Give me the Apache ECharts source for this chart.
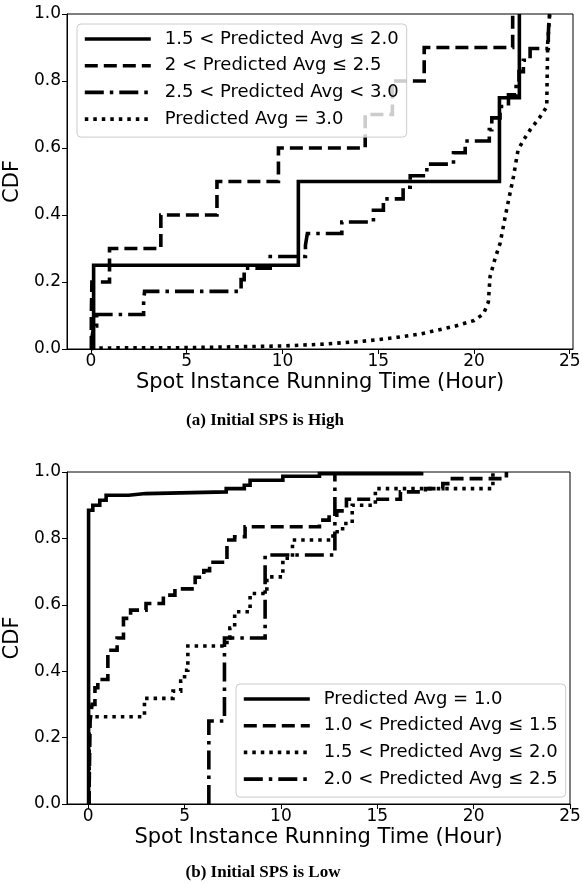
<!DOCTYPE html>
<html>
<head>
<meta charset="utf-8">
<script src="https://cdn.jsdelivr.net/npm/echarts@6/dist/echarts.min.js"></script>
<style>
  html, body { margin: 0; padding: 0; background: #fff; }
  #main { width: 582px; height: 884px; }
</style>
</head>
<body>
<div id="main"></div>
<script>
/* two CDF panels of spot instance running time */

// shared ticks
const xTicks = [0, 5, 10, 15, 20, 25];

// (a) initial SPS high
const highNames = ['1.5 < Predicted Avg ≤ 2.0', '2 < Predicted Avg ≤ 2.5', '2.5 < Predicted Avg < 3.0', 'Predicted Avg = 3.0'];
const highX1 = [0.14, 10.83, 21.33, 22.37];
const highY1 = [0.25, 0.5, 0.75, 1.0];
const highX2 = [0.02, 0.05, 0.97, 3.65, 6.58, 9.79, 14.32, 15.74, 17.4, 22.02];
const highY2 = [0.1, 0.2, 0.3, 0.4, 0.5, 0.6, 0.7, 0.8, 0.9, 1.0];
const highX3 = [0.05, 0.15, 0.3, 2.75, 2.8, 7.84, 8.0, 9.36, 11.2, 11.3, 13.1, 14.75, 15.27, 16.3, 16.67, 17.54, 18.93, 19.54,
                20.8, 20.93, 21.36, 21.8, 22.2, 22.35, 22.58, 22.93, 23.88, 23.9, 23.95];
const highY3 = [0.034, 0.069, 0.103, 0.138, 0.172, 0.207, 0.241, 0.276, 0.310, 0.345, 0.379, 0.414, 0.448, 0.483, 0.517, 0.552,
                0.586, 0.621, 0.655, 0.690, 0.724, 0.759, 0.793, 0.828, 0.862, 0.897, 0.931, 0.966, 1.0];
const highX4 = [0, 0.2, 5, 10, 12, 14, 15, 16, 17.2, 18, 19, 20, 20.5, 20.75, 20.84, 21.1, 21.36, 21.7, 22.06, 22.3, 22.6,
                22.93, 23.45, 23.8, 23.82, 23.85, 23.95];
const highY4 = [0, 0.003, 0.004, 0.009, 0.014, 0.022, 0.028, 0.035, 0.045, 0.055, 0.068, 0.085, 0.105, 0.14, 0.216, 0.27,
                0.315, 0.415, 0.514, 0.594, 0.625, 0.654, 0.693, 0.723, 0.81, 0.913, 1.0];

// (b) initial SPS low
const lowNames = ['Predicted Avg = 1.0', '1.0 < Predicted Avg ≤ 1.5', '1.5 < Predicted Avg ≤ 2.0', '2.0 < Predicted Avg ≤ 2.5'];
const lowX1 = [0.02, 0.24, 0.6, 0.93, 2.1, 2.98, 7.16, 8.1, 8.4, 10.1, 12.0, 17.3];
const lowY1 = [0.885, 0.9, 0.915, 0.93, 0.935, 0.94, 0.95, 0.96, 0.975, 0.987, 0.995, 1.0];
const lowX2 = [0.05, 0.1, 0.2, 0.35, 0.5, 1.02, 1.5, 1.83, 2.2, 3.0, 3.9, 4.5, 5.55, 6.0, 6.3, 7.2, 7.6, 8.14, 12.0, 12.5,
               12.9, 13.4, 16.2, 17.5, 18.4, 18.8, 21.7];
const lowY2 = [0.05, 0.25, 0.30, 0.35, 0.375, 0.463, 0.50, 0.559, 0.584, 0.604, 0.629, 0.648, 0.683, 0.703, 0.728, 0.795,
               0.805, 0.835, 0.855, 0.87, 0.883, 0.918, 0.94, 0.95, 0.965, 0.98, 1.0];
const lowX3 = [0.05, 2.92, 4.4, 4.8, 5.0, 5.17, 7.2, 7.35, 7.6, 8.4, 9.27, 10.1, 10.6, 12.7, 13.2, 13.7, 14.9, 21.0];
const lowY3 = [0.263, 0.318, 0.34, 0.37, 0.403, 0.476, 0.5, 0.53, 0.579, 0.634, 0.684, 0.74, 0.795, 0.82, 0.845, 0.9, 0.95, 1.0];
const lowX4 = [6.26, 7.07, 9.18, 12.8];
const lowY4 = [0.25, 0.5, 0.75, 1.0];

const FONT = 'DejaVu Sans';
const LW = 3.6;
const SOLID = 'solid';
const DASHED = [13, 6];
const DOTTED = [3.5, 5];
const DASHDOT = [19, 6, 3.5, 6];

// series keys are unique per panel (two panels share a label)
const highKeys = highNames.map((n, i) => 'a' + i);
const lowKeys = lowNames.map((n, i) => 'b' + i);
const labelOf = {};
highKeys.forEach((k, i) => labelOf[k] = highNames[i]);
lowKeys.forEach((k, i) => labelOf[k] = lowNames[i]);

// ecdf points, starting at zero
function steps(xs, ys) {
    let pts = [[xs[0], 0]];
    for (let i = 0; i < xs.length; i++) pts.push([xs[i], ys[i]]);
    return pts;
}

function cdfSeries(key, xs, ys, dash, idx, isStep) {
    return {
        name: key,
        type: 'line',
        xAxisIndex: idx,
        yAxisIndex: idx,
        step: isStep ? 'end' : false,
        data: isStep ? steps(xs, ys) : xs.map((x, i) => [x, ys[i]]),
        symbol: 'none',
        showSymbol: false,
        animation: false,
        itemStyle: { color: '#000' },
        lineStyle: { color: '#000', width: LW, type: dash, cap: 'butt', join: 'miter' }
    };
}

function xAxisOf(idx, min, max) {
    return {
        type: 'value', gridIndex: idx, min: min, max: max,
        name: 'Spot Instance Running Time (Hour)',
        nameLocation: 'middle', nameGap: 23,
        nameTextStyle: { fontFamily: FONT, fontSize: 21, color: '#000' },
        axisLine: { show: true, onZero: false, lineStyle: { color: '#000', width: 1 } },
        axisTick: { show: true, customValues: xTicks, length: 5, lineStyle: { color: '#000' } },
        axisLabel: { customValues: xTicks, fontFamily: FONT, fontSize: 17, color: '#000', margin: 4 },
        splitLine: { show: false }
    };
}

function yAxisOf(idx) {
    return {
        type: 'value', gridIndex: idx, min: 0, max: 1, interval: 0.2,
        name: 'CDF', nameLocation: 'middle', nameGap: 33, nameRotate: 90,
        nameTextStyle: { fontFamily: FONT, fontSize: 21, color: '#000' },
        axisLine: { show: true, onZero: false, lineStyle: { color: '#000', width: 1 } },
        axisTick: { show: true, length: 5, lineStyle: { color: '#000' } },
        axisLabel: { fontFamily: FONT, fontSize: 17, color: '#000', margin: 6, formatter: v => v.toFixed(1) },
        splitLine: { show: false }
    };
}

function legendOf(keys, left, top) {
    return {
        data: keys, orient: 'vertical', left: left, top: top,
        formatter: k => labelOf[k],
        itemWidth: 66, itemHeight: 14, itemGap: 6.7,
        padding: [5, 8, 8, 6],
        backgroundColor: 'rgba(255,255,255,0.8)',
        borderColor: '#cccccc', borderWidth: 1, borderRadius: 4,
        itemStyle: { opacity: 0 },
        lineStyle: { width: LW },
        textStyle: { fontFamily: FONT, fontSize: 18, color: '#000', lineHeight: 20, padding: [0, 0, 0, 9] }
    };
}

function gridOf(top, height, right) {
    return {
        left: 67, right: right, top: top, height: height,
        outerBoundsMode: 'none', containLabel: false,
        show: true, borderColor: '#000', borderWidth: 1, backgroundColor: 'transparent'
    };
}

const chart = echarts.init(document.getElementById('main'), null, { renderer: 'canvas' });
chart.setOption({
    backgroundColor: '#fff',
    animation: false,
    grid: [gridOf(14, 335, 9), gridOf(472, 332, 12)],
    xAxis: [xAxisOf(0, -1.25, 25.17), xAxisOf(1, -1.1, 25)],
    yAxis: [yAxisOf(0), yAxisOf(1)],
    legend: [legendOf(highKeys, 77, 24), legendOf(lowKeys, 236, 684)],
    series: [
        cdfSeries(highKeys[0], highX1, highY1, SOLID, 0, true),
        cdfSeries(highKeys[1], highX2, highY2, DASHED, 0, true),
        cdfSeries(highKeys[2], highX3, highY3, DASHDOT, 0, true),
        cdfSeries(highKeys[3], highX4, highY4, DOTTED, 0, false),
        cdfSeries(lowKeys[0], lowX1, lowY1, SOLID, 1, true),
        cdfSeries(lowKeys[1], lowX2, lowY2, DASHED, 1, true),
        cdfSeries(lowKeys[2], lowX3, lowY3, DOTTED, 1, true),
        cdfSeries(lowKeys[3], lowX4, lowY4, DASHDOT, 1, true)
    ],
    graphic: [
        { type: 'text', x: 265, y: 412, style: { text: '(a) Initial SPS is High', align: 'center', fontFamily: 'Liberation Serif', fontWeight: 'bold', fontSize: 17, fill: '#000' } },
        { type: 'text', x: 263, y: 864, style: { text: '(b) Initial SPS is Low', align: 'center', fontFamily: 'Liberation Serif', fontWeight: 'bold', fontSize: 17, fill: '#000' } }
    ]
});
</script>
</body>
</html>
